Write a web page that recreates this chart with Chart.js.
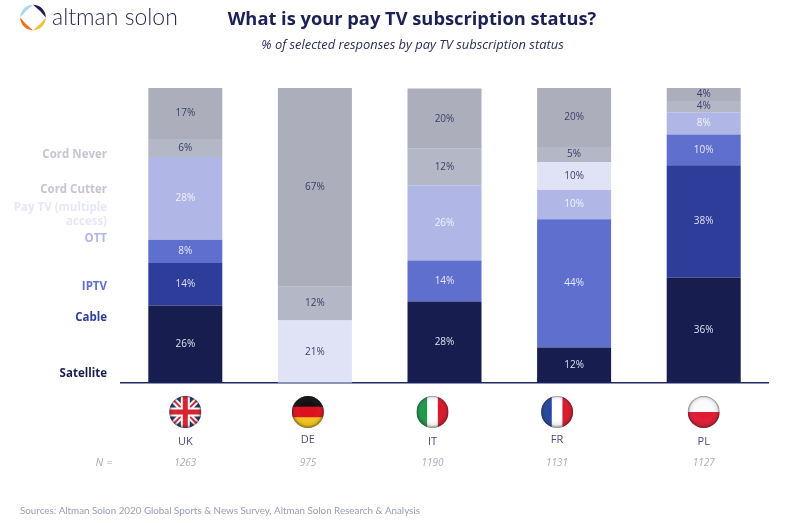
<!DOCTYPE html>
<html><head><meta charset="utf-8">
<style>html,body{margin:0;padding:0;background:#fff}#w{position:relative;width:803px;height:523px}</style>
<script src="https://cdn.jsdelivr.net/npm/chart.js@4"></script>
</head><body><div id="w"><canvas id="c" width="803" height="523"></canvas></div>
<script>
const categories = ["UK","DE","IT","FR","PL"];
const sampleSizes = ["1263","975","1190","1131","1127"];
const satellite  = [26.2, 0, 27.6, 12, 35.7];
const cable      = [14.4, 0, 0, 0, 38.1];
const iptv       = [7.9, 0, 13.9, 43.5, 10.4];
const ott        = [28.1, 0, 25.5, 9.9, 7.6];
const payTv      = [0, 21.1, 0, 9.5, 0];
const cordCutter = [6.1, 11.5, 12.4, 5.1, 3.8];
const cordNever  = [17.4, 67.4, 20.4, 20, 4.4];
const seriesNames = ["Satellite","Cable","IPTV","OTT",["Pay TV (multiple","access)"],"Cord Cutter","Cord Never"];
const seriesColors = ["#171d4e","#2e3c9a","#5f6fce","#b0b7e6","#e0e3f6","#b4b7c5","#acaebc"];
const valueColors  = ["#dfe1f0","#dfe1f0","#e6e8f6","#f2f3fb","#3c4068","#3c4068","#3c4068"];
const nameColors   = ["#171d4e","#2e3c9a","#5f6fce","#b0b7e6","#e6e8f7","#c4c6d2","#c4c6d2"];
const nameY = [374,318,287,239,208,190,155];
const labelShiftX = [0,-7,-12,-17,0];
const labelShiftY = [0,-2,0,-2,0];
const FONT = '"Open Sans"';

class ShiftedCategory extends Chart.CategoryScale {
  static id = 'shifted';
  static defaults = Chart.CategoryScale.defaults;
  getPixelForTick(i){ return super.getPixelForTick(i) + labelShiftX[i]; }
  _computeLabelItems(area){
    const items = super._computeLabelItems(area);
    items.forEach((it,i)=>{ it.options.translation[1] += labelShiftY[i]; });
    return items;
  }
}
Chart.register(ShiftedCategory);

function flag(ctx,code,x,y,r){
  ctx.save();
  ctx.beginPath();ctx.arc(x,y,r,0,Math.PI*2);ctx.clip();
  const X=x-r,Y=y-r,S=2*r;
  const rect=(c,a,b,w,h)=>{ctx.fillStyle=c;ctx.fillRect(a,b,w,h);};
  if(code==='UK'){
    rect('#27306f',X,Y,S,S);
    ctx.lineCap='butt';
    const line=(c,w,pts)=>{ctx.strokeStyle=c;ctx.lineWidth=w;ctx.beginPath();ctx.moveTo(pts[0],pts[1]);ctx.lineTo(pts[2],pts[3]);ctx.stroke();};
    line('#fff',6,[X,Y,X+S,Y+S]);line('#fff',6,[X+S,Y,X,Y+S]);
    line('#d8232f',2,[X,Y,X+S,Y+S]);line('#d8232f',2,[X+S,Y,X,Y+S]);
    rect('#fff',x-4.5,Y,9,S);rect('#fff',X,y-4.5,S,9);
    rect('#d8232f',x-2.5,Y,5,S);rect('#d8232f',X,y-2.5,S,5);
  } else if(code==='DE'){
    rect('#111',X,Y,S,S/3+.5);rect('#dd1020',X,Y+S/3,S,S/3+.5);rect('#f5c518',X,Y+2*S/3,S,S/3);
  } else if(code==='IT'){
    rect('#1d9a4a',X,Y,S/3+.5,S);rect('#fff',X+S/3,Y,S/3+.5,S);rect('#d8192b',X+2*S/3,Y,S/3,S);
  } else if(code==='FR'){
    rect('#26459e',X,Y,S/3+.5,S);rect('#fff',X+S/3,Y,S/3+.5,S);rect('#d8192b',X+2*S/3,Y,S/3,S);
  } else {
    rect('#fafafa',X,Y,S,S/2);rect('#e01a32',X,y,S,S/2);
  }
  const g=ctx.createRadialGradient(x,y-r*.15,r*.5,x,y,r);
  g.addColorStop(0,'rgba(255,255,255,0)');g.addColorStop(.7,'rgba(60,60,60,.1)');g.addColorStop(1,'rgba(30,30,30,.55)');
  ctx.fillStyle=g;ctx.fillRect(X,Y,S,S);
  ctx.restore();
}
function logo(ctx){
  const cx=33,cy=17.5,R=12.8,k=10.2;
  const cols=['#1a1f4f','#f6c23e','#f0701e','#a9d6f2'];
  cols.forEach((c,i)=>{
    const a=-Math.PI/2+i*Math.PI/2,b=a+Math.PI/2,m=a+Math.PI/4;
    ctx.fillStyle=c;ctx.beginPath();
    ctx.arc(cx,cy,R,a,b);
    ctx.quadraticCurveTo(cx+k*Math.cos(m),cy+k*Math.sin(m),cx+R*Math.cos(a),cy+R*Math.sin(a));
    ctx.fill();
  });
}
const overlay={
  id:'overlay',
  afterDraw(chart){
    const ctx=chart.ctx;
    ctx.save();
    logo(ctx);
    ctx.textBaseline='middle';
    ctx.textAlign='left';ctx.fillStyle='#1f2450';ctx.font='300 23px Lato';
    ctx.fillText('altman solon',52,18);
    ctx.textAlign='center';
    ctx.fillStyle='#1b2155';ctx.font='bold 18.3px '+FONT;
    ctx.fillText('What is your pay TV subscription status?',412,20);
    ctx.fillStyle='#2a2f58';ctx.font='italic 12.9px '+FONT;
    ctx.fillText('% of selected responses by pay TV subscription status',412.5,45.5);
    // series names
    ctx.textAlign='right';ctx.font='bold 11.5px '+FONT;
    seriesNames.forEach((n,i)=>{
      ctx.fillStyle=nameColors[i];
      [].concat(n).forEach((t,j)=>ctx.fillText(t,107,nameY[i]+j*14));
    });
    // value labels
    ctx.textAlign='center';ctx.font='10px '+FONT;
    chart.data.datasets.forEach((ds,d)=>{
      chart.getDatasetMeta(d).data.forEach((bar,i)=>{
        if(!ds.data[i])return;
        ctx.fillStyle=valueColors[d];
        ctx.fillText(Math.round(ds.data[i])+'%',bar.x,(bar.y+bar.base)/2);
      });
    });
    // flags and sample sizes
    const x=chart.scales.x;
    categories.forEach((c,i)=>{
      const px=x.getPixelForTick(i);
      flag(ctx,c,px,412,16);
      ctx.textAlign='center';ctx.fillStyle='#a9abbd';ctx.font='italic 10px '+FONT;
      ctx.fillText(sampleSizes[i],px,463);
    });
    ctx.fillStyle='#a9abbd';ctx.font='italic 11px '+FONT;ctx.fillText('N =',104,463);
    ctx.textAlign='left';ctx.fillStyle='#9a9db5';ctx.font='9.8px Lato';
    ctx.fillText('Sources: Altman Solon 2020 Global Sports & News Survey, Altman Solon Research & Analysis',20,510.5);
    ctx.restore();
  }
};
new Chart(document.getElementById('c'),{
  type:'bar',
  data:{labels:categories,datasets:[satellite,cable,iptv,ott,payTv,cordCutter,cordNever].map((v,i)=>({
    label:[].concat(seriesNames[i]).join(' '),data:v,backgroundColor:seriesColors[i],
    barPercentage:1,categoryPercentage:0.6036,borderWidth:0
  }))},
  options:{
    responsive:false,animation:false,
    layout:{padding:{left:120.5,right:34.5,top:88,bottom:23}},
    plugins:{legend:{display:false},tooltip:{enabled:false}},
    scales:{
      x:{type:'shifted',stacked:true,offset:true,
        grid:{display:false,drawTicks:false},
        border:{display:true,color:'#1f2a66',width:1.5},
        ticks:{padding:52,color:'#4a4e75',font:{family:FONT,size:11},maxRotation:0,autoSkip:false}},
      y:{stacked:true,min:0,max:100,display:false}
    }
  },
  plugins:[overlay]
});
</script></body></html>
